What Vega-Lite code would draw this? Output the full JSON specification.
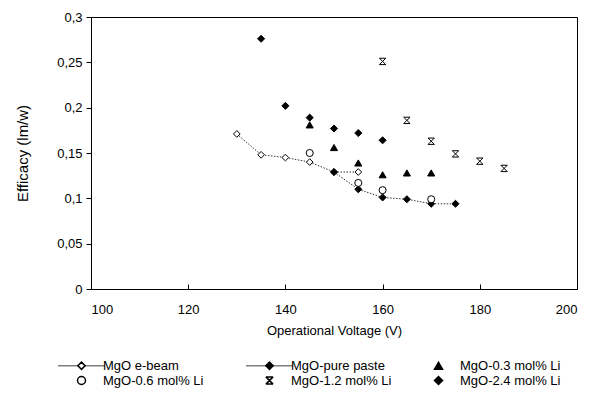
{
  "$schema": "https://vega.github.io/schema/vega-lite/v6.json",
  "width": 486,
  "height": 272,
  "autosize": {"type": "none"},
  "padding": {"left": 91, "top": 17, "right": 34, "bottom": 129},
  "background": "white",
  "config": {
    "font": "Liberation Sans",
    "view": {"stroke": "#000000", "strokeWidth": 1},
    "axis": {"grid": false, "domainColor": "#000000", "tickColor": "#000000", "labelColor": "#000000", "titleColor": "#000000", "labelFontSize": 13, "titleFontSize": 13, "titleFontWeight": "normal", "labelFont": "Liberation Sans", "titleFont": "Liberation Sans"},
    "legend": {"labelFont": "Liberation Sans", "labelFontSize": 13, "labelColor": "#000000"}
  },
  "data": {
    "values": [
      {"series": "MgO e-beam", "V": 130, "E": 0.171},
      {"series": "MgO e-beam", "V": 135, "E": 0.148},
      {"series": "MgO e-beam", "V": 140, "E": 0.145},
      {"series": "MgO e-beam", "V": 145, "E": 0.140},
      {"series": "MgO e-beam", "V": 150, "E": 0.129},
      {"series": "MgO e-beam", "V": 155, "E": 0.129},
      {"series": "MgO-pure paste", "V": 150, "E": 0.129},
      {"series": "MgO-pure paste", "V": 155, "E": 0.110},
      {"series": "MgO-pure paste", "V": 160, "E": 0.101},
      {"series": "MgO-pure paste", "V": 165, "E": 0.099},
      {"series": "MgO-pure paste", "V": 170, "E": 0.094},
      {"series": "MgO-pure paste", "V": 175, "E": 0.094},
      {"series": "MgO-0.3 mol% Li", "V": 145, "E": 0.181},
      {"series": "MgO-0.3 mol% Li", "V": 150, "E": 0.156},
      {"series": "MgO-0.3 mol% Li", "V": 155, "E": 0.139},
      {"series": "MgO-0.3 mol% Li", "V": 160, "E": 0.126},
      {"series": "MgO-0.3 mol% Li", "V": 165, "E": 0.128},
      {"series": "MgO-0.3 mol% Li", "V": 170, "E": 0.128},
      {"series": "MgO-0.6 mol% Li", "V": 145, "E": 0.150},
      {"series": "MgO-0.6 mol% Li", "V": 155, "E": 0.117},
      {"series": "MgO-0.6 mol% Li", "V": 160, "E": 0.109},
      {"series": "MgO-0.6 mol% Li", "V": 170, "E": 0.099},
      {"series": "MgO-1.2 mol% Li", "V": 160, "E": 0.251},
      {"series": "MgO-1.2 mol% Li", "V": 165, "E": 0.186},
      {"series": "MgO-1.2 mol% Li", "V": 170, "E": 0.163},
      {"series": "MgO-1.2 mol% Li", "V": 175, "E": 0.149},
      {"series": "MgO-1.2 mol% Li", "V": 180, "E": 0.141},
      {"series": "MgO-1.2 mol% Li", "V": 185, "E": 0.133},
      {"series": "MgO-2.4 mol% Li", "V": 135, "E": 0.276},
      {"series": "MgO-2.4 mol% Li", "V": 140, "E": 0.202},
      {"series": "MgO-2.4 mol% Li", "V": 145, "E": 0.189},
      {"series": "MgO-2.4 mol% Li", "V": 150, "E": 0.177},
      {"series": "MgO-2.4 mol% Li", "V": 155, "E": 0.172},
      {"series": "MgO-2.4 mol% Li", "V": 160, "E": 0.164}
    ]
  },
  "encoding": {
    "x": {"field": "V", "type": "quantitative", "scale": {"domain": [100, 200], "nice": false, "zero": false},
      "axis": {"title": "Operational Voltage (V)", "values": [100, 120, 140, 160, 180, 200], "tickSize": -5, "labelPadding": 19, "titlePadding": 8}},
    "y": {"field": "E", "type": "quantitative", "scale": {"domain": [0, 0.3], "nice": false},
      "axis": {"title": "Efficacy (lm/w)", "titleFontSize": 15, "values": [0, 0.05, 0.1, 0.15, 0.2, 0.25, 0.3], "tickSize": 5, "labelPadding": 4, "titlePadding": 26,
        "labelExpr": "replace(format(datum.value, '.2~f'), '.', ',')"}}
  },
  "layer": [
    {
      "transform": [{"filter": "datum.series === 'MgO e-beam' || datum.series === 'MgO-pure paste'"}],
      "mark": {"type": "line", "color": "#333333", "strokeWidth": 1, "strokeDash": [1.5, 1.5]},
      "encoding": {"detail": {"field": "series", "type": "nominal"}}
    },
    {
      "transform": [{"filter": "datum.series === 'MgO e-beam'"}],
      "mark": {"type": "point", "shape": "diamond", "filled": true, "fill": "white", "stroke": "black", "strokeWidth": 1, "size": 45, "opacity": 1}
    },
    {
      "transform": [{"filter": "datum.series === 'MgO-pure paste'"}],
      "mark": {"type": "point", "shape": "diamond", "filled": true, "fill": "black", "stroke": "black", "strokeWidth": 1, "size": 50, "opacity": 1}
    },
    {
      "transform": [{"filter": "datum.series !== 'MgO e-beam' && datum.series !== 'MgO-pure paste'"}],
      "mark": {"type": "point", "stroke": "#000000", "strokeWidth": 1, "opacity": 1, "size": 50},
      "encoding": {
        "shape": {"field": "series", "type": "nominal",
          "scale": {"domain": ["MgO e-beam", "MgO-pure paste", "MgO-0.3 mol% Li", "MgO-0.6 mol% Li", "MgO-1.2 mol% Li", "MgO-2.4 mol% Li"],
            "range": [
              "M-5.75,0L-5.5,0M-5.25,0L-5,0M-4.75,0L-4.5,0M-4.25,0L-4,0M-3.75,0L-3.5,0M-3.25,0L-3,0M-2.75,0L-2.5,0M-2.25,0L-2,0M-1.75,0L-1.5,0M-1.25,0L-1,0M1,0L1.25,0M1.5,0L1.75,0M2,0L2.25,0M2.5,0L2.75,0M3,0L3.25,0M3.5,0L3.75,0M4,0L4.25,0M4.5,0L4.75,0M5,0L5.25,0M5.5,0L5.75,0M0,-0.9L0.9,0L0,0.9L-0.9,0Z",
              "M-5.75,0L-5.5,0M-5.25,0L-5,0M-4.75,0L-4.5,0M-4.25,0L-4,0M-3.75,0L-3.5,0M-3.25,0L-3,0M-2.75,0L-2.5,0M-2.25,0L-2,0M-1.75,0L-1.5,0M-1.25,0L-1,0M1,0L1.25,0M1.5,0L1.75,0M2,0L2.25,0M2.5,0L2.75,0M3,0L3.25,0M3.5,0L3.75,0M4,0L4.25,0M4.5,0L4.75,0M5,0L5.25,0M5.5,0L5.75,0M0,-0.9L0.9,0L0,0.9L-0.9,0Z",
              "triangle-up",
              "circle",
              "M-0.9,-0.9L0.9,0.9M0.9,-0.9L-0.9,0.9M-0.9,-0.9L0.9,-0.9M-0.9,0.9L0.9,0.9",
              "diamond"]},
          "legend": {
            "title": null, "orient": "none", "legendX": -16, "legendY": 342, "columns": 3, "direction": "horizontal",
            "symbolSize": 64, "labelOffset": 15, "columnPadding": 39, "rowPadding": 0, "padding": 0
          }},
        "fill": {"field": "series", "type": "nominal",
          "scale": {"domain": ["MgO e-beam", "MgO-pure paste", "MgO-0.3 mol% Li", "MgO-0.6 mol% Li", "MgO-1.2 mol% Li", "MgO-2.4 mol% Li"],
            "range": ["white", "black", "black", "white", "black", "black"]}}
      }
    }
  ]
}
